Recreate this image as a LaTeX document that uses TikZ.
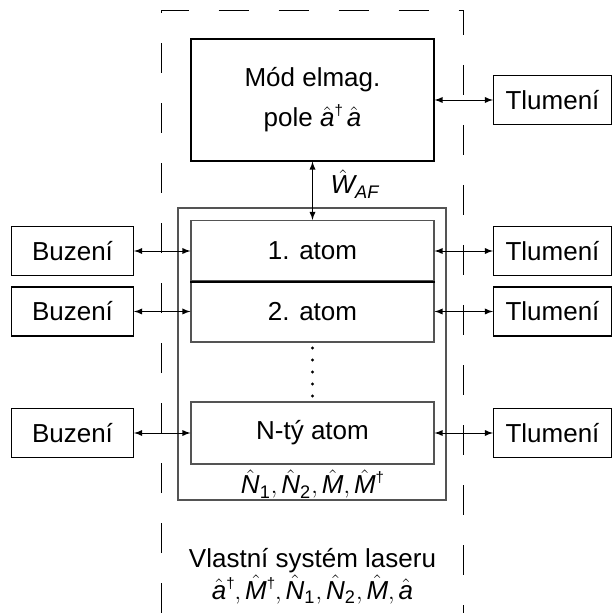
\documentclass[tikz,border=0pt]{standalone}
\usepackage{amsmath}
\usepackage{fontspec}
\setmainfont{Liberation Sans}
\usetikzlibrary{positioning}
\definecolor{boxgray}{rgb}{0.33,0.33,0.33}
\newcommand{\opr}[1]{\hat{\textit{#1}}}
\newcommand{\dg}{\mbox{\raisebox{0.42em}{\fontsize{7.5}{7.5}\selectfont\textdagger}}}

\begin{document}
\begin{tikzpicture}[x=0.5pt, y=-0.5pt, node distance = 120pt and 120pt, on grid, semithick,
  every node/.style={font=\fontsize{13}{15.6}\selectfont},
  outbox/.style={rectangle, draw=black, minimum height=24.5pt, inner sep=0pt},
  atombox/.style={rectangle, draw=boxgray, minimum width=121.5pt, minimum height=30.5pt, inner sep=0pt},
  link/.style={latex-latex, draw=black, thin}]
  \useasboundingbox (0,0) rectangle (612,613);
			 % vlastni system laseru
			 \draw [thin, dash pattern=on 15pt off 15pt] (161.5,613) -- (161.5,10) -- (463.5,10) -- (463.5,613);
			 \node [rectangle, draw=black, minimum width=121.5pt, minimum height=61pt, inner sep=0pt, align=center, font=\fontsize{13}{20}\selectfont] (MODE) at (312.5,100) {M\'od elmag.\\pole $\opr{a}\dg\,\opr{a}$};
			 \node [rectangle, draw=boxgray, minimum width=134pt, minimum height=146pt, inner sep=0pt] (ATOMS) at (312,354) {};
			 \node [atombox] (A1) at (312.5,251) {1. atom};
			 \node [atombox] (A2) [below=30.25pt of A1] {2. atom};
			 \node [atombox, minimum height=31pt] (AN) at (312.5,433) {N-t\'y atom};
			 \draw [black, semithick] (A1.south west) -- (A1.south east);
			 \node [outbox, minimum width=59pt] (T0) [right=of MODE] {Tlumení};
			 \node [outbox, minimum width=61pt] (B1) [left=of A1] {Buzení};
			 \node [outbox, minimum width=61pt] (B2) [left=of A2] {Buzení};
			 \node [outbox, minimum width=61pt] (BN) [left=of AN] {Buzení};
			 \node [outbox, minimum width=59pt] (T1) [right=of A1] {Tlumení};
			 \node [outbox, minimum width=59pt] (T2) [right=of A2] {Tlumení};
			 \node [outbox, minimum width=59pt] (TN) [right=of AN] {Tlumení};
			 \node (WAF) at (355,184) {$\opr{W}_{\textit{AF}}$};
			 \node (OPS) at (312.5,484) {$\opr{N}_{\textrm{1}}, \opr{N}_{\textrm{2}}, \opr{M}, \opr{M}\dg$};
			 \node [align=center, font=\fontsize{13}{16}\selectfont] (SYS) at (312.5,576) {Vlastní systém laseru\\$\opr{a}\dg, \opr{M}\dg, \opr{N}_{\textrm{1}}, \opr{N}_{\textrm{2}}, \opr{M}, \opr{a}$};
			 \foreach \y in {348,360,372,384,396}
			   \fill (312.5,\y) circle (0.8pt);
			 \path (MODE) edge [link] (T0);
			 \path (MODE) edge [link] (A1);
			 \path (B1) edge [link] (A1);
			 \path (B2) edge [link] (A2);
			 \path (BN) edge [link] (AN);
			 \path (A1) edge [link] (T1);
			 \path (A2) edge [link] (T2);
			 \path (AN) edge [link] (TN);
		\end{tikzpicture}
\end{document}
